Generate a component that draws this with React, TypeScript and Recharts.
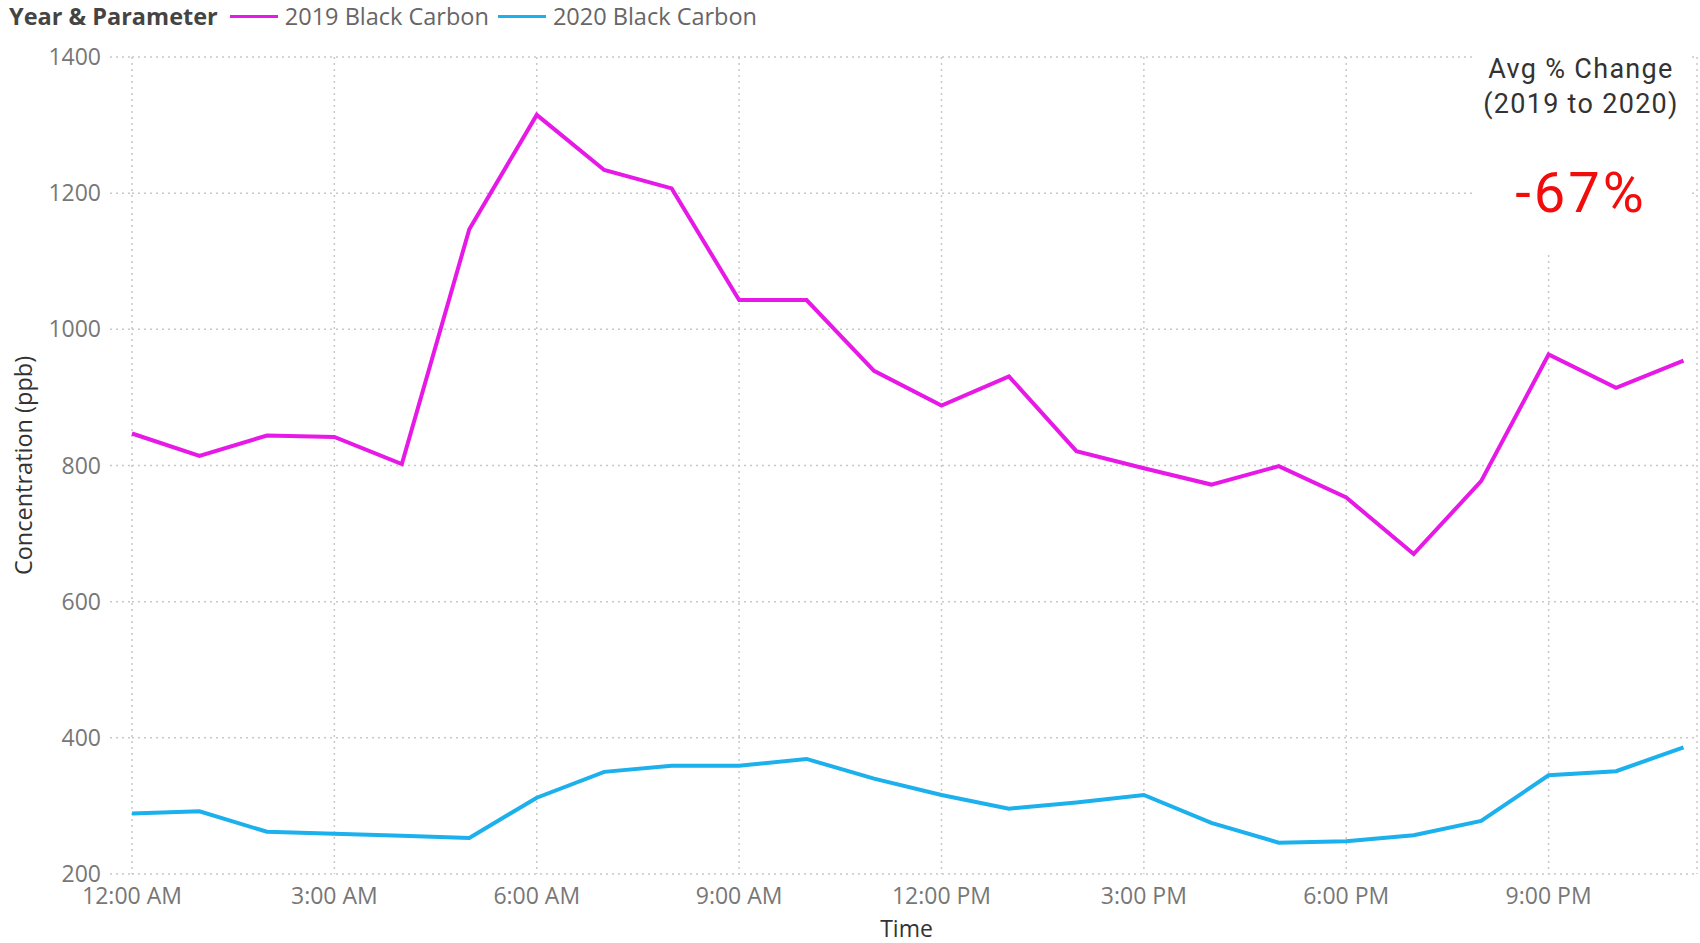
import { LineChart, Line, XAxis, YAxis, CartesianGrid } from 'recharts';

// hour of day, 0 = midnight
const hours = [0, 1, 2, 3, 4, 5, 6, 7, 8, 9, 10, 11, 12, 13, 14, 15, 16, 17, 18, 19, 20, 21, 22, 23];
const blackCarbon2019 = [847, 814, 844, 842, 802, 1147, 1315, 1234, 1207, 1043, 1043, 939, 888, 931, 821, 796, 772, 799, 753, 670, 777, 963, 914, 954];
const blackCarbon2020 = [289, 292, 262, 259, 256, 253, 312, 350, 359, 359, 369, 340, 316, 296, 305, 316, 275, 246, 248, 257, 278, 345, 351, 386];

const xTicks = [0, 3, 6, 9, 12, 15, 18, 21];
const xTickLabels = ['12:00 AM', '3:00 AM', '6:00 AM', '9:00 AM', '12:00 PM', '3:00 PM', '6:00 PM', '9:00 PM'];
const yTicks = [200, 400, 600, 800, 1000, 1200, 1400];

const seriesNames = ['2019 Black Carbon', '2020 Black Carbon'];
const avgChange = '-67%';

const PINK = '#E619E6';
const BLUE = '#1CB0EC';
const FONT = '"Open Sans", sans-serif';

const data = hours.map((h, i) => ({ hour: h, y2019: blackCarbon2019[i], y2020: blackCarbon2020[i] }));

function LegendRow() {
  return (
    <div style={{ position: 'absolute', left: 9, top: 0, height: 32, display: 'flex', alignItems: 'center', fontFamily: FONT, fontSize: 23.5, whiteSpace: 'nowrap' }}>
      <span style={{ fontWeight: 700, color: '#444', marginRight: 12 }}>Year &amp; Parameter</span>
      <span style={{ display: 'inline-block', width: 48, height: 3, background: PINK, marginRight: 7 }} />
      <span style={{ color: '#666', marginRight: 9 }}>{seriesNames[0]}</span>
      <span style={{ display: 'inline-block', width: 48, height: 3, background: BLUE, marginRight: 7 }} />
      <span style={{ color: '#666' }}>{seriesNames[1]}</span>
    </div>
  );
}

function ChangeCard() {
  return (
    <div style={{ position: 'absolute', left: 1474, top: 38, width: 214, height: 215, background: '#fff', fontFamily: 'Roboto, sans-serif', textAlign: 'center' }}>
      <div style={{ marginTop: 14, fontSize: 27, lineHeight: '35px', color: '#333', letterSpacing: 1.3 }}>
        Avg % Change<br />(2019 to 2020)
      </div>
      <div style={{ marginTop: 41, fontSize: 56, lineHeight: '60px', color: '#F20D0D', letterSpacing: 3 }}>{avgChange}</div>
    </div>
  );
}

export default function App() {
  return (
    <div style={{ position: 'absolute', left: 0, top: 0, width: 1700, height: 943, background: '#fff' }}>
      <LineChart width={1700} height={943} data={data} margin={{ top: 57, right: 3, bottom: 0, left: 0 }}>
        <CartesianGrid stroke="#c8c8c8" strokeDasharray="2 4" strokeWidth={1.5} />
        <XAxis
          dataKey="hour"
          type="number"
          domain={[0, 23.2]}
          ticks={xTicks}
          tickFormatter={(v: number) => xTickLabels[xTicks.indexOf(v)]}
          height={69}
          axisLine={false}
          tickLine={false}
          tickSize={0}
          tickMargin={14}
          tick={{ fontSize: 23, fill: '#777', fontFamily: FONT }}
          label={{ value: 'Time', position: 'insideBottom', offset: 6, dx: -8, fontSize: 23, fill: '#333', fontFamily: FONT }}
        />
        <YAxis
          type="number"
          domain={[200, 1400]}
          ticks={yTicks}
          width={132}
          axisLine={false}
          tickLine={{ stroke: '#c8c8c8', strokeDasharray: '2 4', strokeWidth: 1.5 }}
          tickSize={22}
          tickMargin={9}
          tick={{ fontSize: 23, fill: '#777', fontFamily: FONT }}
          label={{ value: 'Concentration (ppb)', angle: -90, position: 'center', dx: -42, fontSize: 23.5, fill: '#333', fontFamily: FONT }}
        />
        <Line type="linear" dataKey="y2019" name={seriesNames[0]} stroke={PINK} strokeWidth={4} dot={false} isAnimationActive={false} />
        <Line type="linear" dataKey="y2020" name={seriesNames[1]} stroke={BLUE} strokeWidth={4} dot={false} isAnimationActive={false} />
      </LineChart>
      <LegendRow />
      <ChangeCard />
    </div>
  );
}
